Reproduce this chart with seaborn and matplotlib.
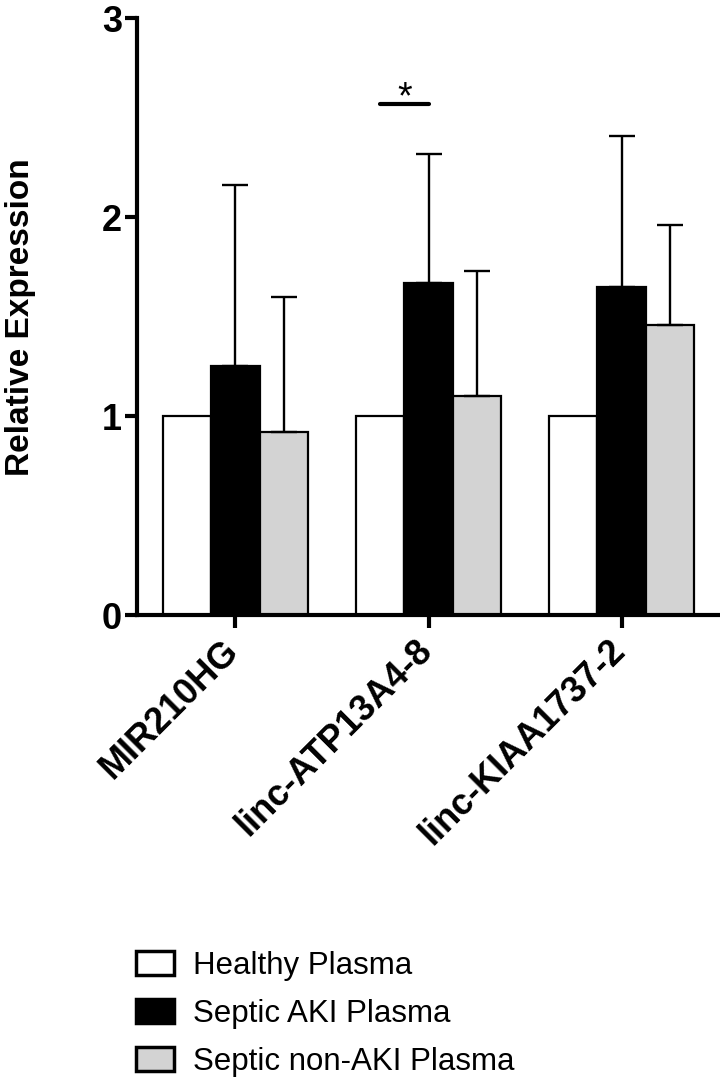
import matplotlib
matplotlib.use("Agg")
import numpy as np
import pandas as pd
import matplotlib.pyplot as plt
import matplotlib.patches as mpatches
import matplotlib.transforms as mtransforms
import seaborn as sns

genes = ["MIR210HG", "linc-ATP13A4-8", "linc-KIAA1737-2"]
groups = ["Healthy Plasma", "Septic AKI Plasma", "Septic non-AKI Plasma"]
colors = ["white", "black", "#d3d3d3"]

healthy = [1.0, 1.0, 1.0]
septic_aki = [1.25, 1.67, 1.65]
septic_non_aki = [0.92, 1.10, 1.46]

healthy_err = [0.0, 0.0, 0.0]
septic_aki_err = [0.91, 0.65, 0.76]
septic_non_aki_err = [0.68, 0.63, 0.50]

values = [healthy, septic_aki, septic_non_aki]
errors = [healthy_err, septic_aki_err, septic_non_aki_err]

rows = []
for g, vals in zip(groups, values):
    for gene, v in zip(genes, vals):
        rows.append({"gene": gene, "group": g, "value": v})
df = pd.DataFrame(rows)

sns.set_theme(style="ticks")
plt.rcParams["font.family"] = ["Liberation Sans", "DejaVu Sans"]
plt.rcParams.update({"text.color": "black", "axes.labelcolor": "black",
                     "xtick.color": "black", "ytick.color": "black",
                     "axes.edgecolor": "black"})

fig = plt.figure(figsize=(7.2, 10.82), dpi=100)
ax = fig.add_axes([137 / 720, 0.4316, 1 - 137 / 720, 0.5514])

sns.barplot(data=df, x="gene", y="value", hue="group", order=genes,
            hue_order=groups, palette=colors, edgecolor="black",
            linewidth=1.6, width=0.755, errorbar=None, legend=False, ax=ax)

# upward-only error bars on the bars that have them
for container, errs in zip(ax.containers, errors):
    for bar, e in zip(container, errs):
        if e <= 0:
            continue
        xc = bar.get_x() + bar.get_width() / 2
        top = bar.get_height()
        ax.errorbar(xc, top, yerr=[[0], [e]], fmt="none", ecolor="black",
                    elinewidth=1.7, capsize=9.5, capthick=1.7, zorder=1)

# significance bar: healthy vs septic AKI for linc-ATP13A4-8
b_h = ax.containers[0][1]
b_a = ax.containers[1][1]
x1 = b_h.get_x() + b_h.get_width() / 2
x2 = b_a.get_x() + b_a.get_width() / 2
ax.plot([x1, x2], [2.572, 2.572], color="black", lw=3, solid_capstyle="round")
ax.text((x1 + x2) / 2, 2.60, "*", ha="center", va="center", fontsize=27)

ax.set_xlim(-0.51, 2.51)
ax.set_ylim(0, 3)
ax.set_yticks([0, 1, 2, 3])
ax.set_xlabel("")
ax.set_ylabel("Relative Expression", fontsize=24, fontweight="bold", labelpad=47)
sns.despine(ax=ax)
for s in ["left", "bottom"]:
    ax.spines[s].set_linewidth(3)
ax.tick_params(axis="both", width=3, length=9, color="black")
ax.tick_params(axis="y", labelsize=26, pad=2)
ax.tick_params(axis="x", labelsize=26, pad=4)
shift = mtransforms.ScaledTranslation(-14 / 100, 0, fig.dpi_scale_trans)
for lbl in ax.get_yticklabels():
    lbl.set_fontweight("bold")
for lbl in ax.get_xticklabels():
    lbl.set_fontweight("bold")
    lbl.set_rotation(45)
    lbl.set_ha("right")
    lbl.set_va("top")
    lbl.set_rotation_mode("anchor")
    lbl.set_transform(lbl.get_transform() + shift)

handles = [mpatches.Patch(facecolor=c, edgecolor="black", linewidth=2.5, label=g)
           for c, g in zip(colors, groups)]
fig.legend(handles=handles, loc="upper left", bbox_to_anchor=(136 / 720, 1 - 951 / 1082),
           frameon=False, fontsize=22.5, handlelength=1.2, handleheight=0.8,
           handletextpad=0.62, labelspacing=0.58, borderpad=0, borderaxespad=0)

fig.savefig("out.png", dpi=100)
